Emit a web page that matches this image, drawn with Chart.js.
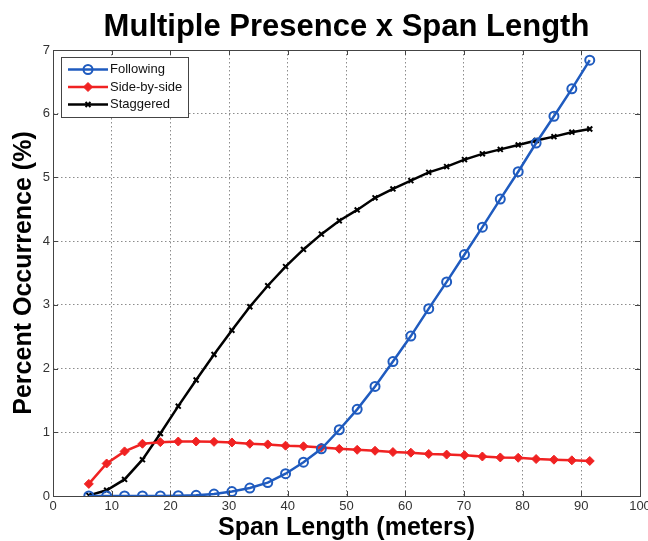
<!DOCTYPE html>
<html>
<head>
<meta charset="utf-8">
<script src="https://cdn.jsdelivr.net/npm/chart.js@4/dist/chart.umd.min.js"></script>
<style>
  html, body { margin: 0; padding: 0; background: #ffffff; }
  #c { display: block; }
</style>
</head>
<body>
<canvas id="c" width="648" height="541"></canvas>
<script>
// Span lengths in meters (10 ft steps, 20 ft to 300 ft)
const spanLength = [6.10, 9.14, 12.19, 15.24, 18.29, 21.34, 24.38, 27.43, 30.48, 33.53,
                    36.58, 39.62, 42.67, 45.72, 48.77, 51.82, 54.86, 57.91, 60.96, 64.01,
                    67.06, 70.10, 73.15, 76.20, 79.25, 82.30, 85.34, 88.39, 91.44];

// Percent occurrence per multiple-presence type
const following   = [0, 0, 0, 0, 0, 0.005, 0.01, 0.03, 0.07, 0.125,
                     0.21, 0.35, 0.53, 0.74, 1.04, 1.36, 1.72, 2.11, 2.51, 2.94,
                     3.36, 3.79, 4.22, 4.66, 5.09, 5.54, 5.96, 6.39, 6.84];
const sideBySide  = [0.19, 0.51, 0.70, 0.82, 0.845, 0.855, 0.855, 0.85, 0.84, 0.82,
                     0.81, 0.79, 0.78, 0.76, 0.74, 0.725, 0.71, 0.69, 0.68, 0.66,
                     0.65, 0.64, 0.62, 0.605, 0.60, 0.58, 0.57, 0.56, 0.55];
const staggered   = [0.01, 0.09, 0.26, 0.57, 0.98, 1.41, 1.82, 2.22, 2.60, 2.97,
                     3.30, 3.60, 3.87, 4.11, 4.32, 4.49, 4.68, 4.82, 4.95, 5.08,
                     5.17, 5.28, 5.37, 5.44, 5.51, 5.58, 5.64, 5.71, 5.76];

const seriesNames = ['Following', 'Side-by-side', 'Staggered'];
const xTicks = [0, 10, 20, 30, 40, 50, 60, 70, 80, 90, 100];
const yTicks = [0, 1, 2, 3, 4, 5, 6, 7];

const toPoints = vals => vals.map((v, i) => ({ x: spanLength[i], y: v }));

const FONT = '"Liberation Sans", Arial, Helvetica, sans-serif';
const AXIS_COLOR = '#444444';

// Box around the plot with inward tick marks on all four sides
const axesBox = {
  id: 'axesBox',
  afterDatasetsDraw(chart) {
    const { ctx, chartArea: a, scales } = chart;
    ctx.save();
    ctx.strokeStyle = AXIS_COLOR;
    ctx.lineWidth = 1;
    ctx.strokeRect(Math.round(a.left) + 0.5, Math.round(a.top) + 0.5,
                   Math.round(a.right - a.left), Math.round(a.bottom - a.top));
    const len = 5;
    ctx.beginPath();
    scales.x.ticks.forEach(t => {
      const px = Math.round(scales.x.getPixelForValue(t.value)) + 0.5;
      ctx.moveTo(px, a.bottom); ctx.lineTo(px, a.bottom - len);
      ctx.moveTo(px, a.top); ctx.lineTo(px, a.top + len);
    });
    scales.y.ticks.forEach(t => {
      const py = Math.round(scales.y.getPixelForValue(t.value)) + 0.5;
      ctx.moveTo(a.left, py); ctx.lineTo(a.left + len, py);
      ctx.moveTo(a.right, py); ctx.lineTo(a.right - len, py);
    });
    ctx.stroke();
    ctx.restore();
  }
};

// Legend box in the upper-left corner: line sample with marker, then label
const lineLegend = {
  id: 'lineLegend',
  afterDraw(chart) {
    const { ctx } = chart;
    const box = { x: 61, y: 57, w: 127, h: 60 };
    const rows = [69.5, 87, 104.5];
    ctx.save();
    ctx.fillStyle = '#ffffff';
    ctx.fillRect(box.x, box.y, box.w, box.h);
    ctx.strokeStyle = AXIS_COLOR;
    ctx.lineWidth = 1;
    ctx.strokeRect(box.x + 0.5, box.y + 0.5, box.w, box.h);
    chart.data.datasets.forEach((ds, i) => {
      const y = rows[i];
      ctx.strokeStyle = ds.borderColor;
      ctx.lineWidth = ds.borderWidth;
      ctx.beginPath();
      ctx.moveTo(68, y); ctx.lineTo(108, y);
      ctx.stroke();
      ctx.fillStyle = ds.pointBackgroundColor;
      ctx.strokeStyle = ds.pointBorderColor;
      ctx.lineWidth = ds.pointBorderWidth;
      Chart.helpers.drawPoint(ctx, {
        pointStyle: ds.pointStyle, radius: ds.pointRadius,
        rotation: 0, borderWidth: ds.pointBorderWidth
      }, 88, y);
      ctx.fillStyle = '#111111';
      ctx.font = '13px ' + FONT;
      ctx.textBaseline = 'middle';
      ctx.textAlign = 'left';
      ctx.fillText(ds.label, 110, y);
    });
    ctx.restore();
  }
};

new Chart(document.getElementById('c'), {
  type: 'line',
  data: {
    datasets: [
      {
        label: seriesNames[0],
        data: toPoints(following),
        borderColor: '#1f5bbf',
        borderWidth: 2.5,
        pointStyle: 'circle',
        pointRadius: 4.5,
        pointBorderWidth: 2,
        pointBorderColor: '#1f5bbf',
        pointBackgroundColor: 'rgba(255,255,255,0)'
      },
      {
        label: seriesNames[1],
        data: toPoints(sideBySide),
        borderColor: '#f02222',
        borderWidth: 2.5,
        pointStyle: 'rectRot',
        pointRadius: 4.5,
        pointBorderWidth: 1,
        pointBorderColor: '#f02222',
        pointBackgroundColor: '#f02222'
      },
      {
        label: seriesNames[2],
        data: toPoints(staggered),
        borderColor: '#000000',
        borderWidth: 2.5,
        pointStyle: 'crossRot',
        pointRadius: 3.5,
        pointBorderWidth: 2,
        pointBorderColor: '#000000',
        pointBackgroundColor: '#000000'
      }
    ]
  },
  options: {
    responsive: false,
    animation: false,
    devicePixelRatio: 1,
    layout: { padding: { left: 0, right: 8, top: 0, bottom: 0 } },
    elements: { line: { tension: 0 } },
    plugins: {
      legend: { display: false },
      tooltip: { enabled: false },
      title: {
        display: true,
        text: 'Multiple Presence x Span Length',
        fullSize: false,
        color: '#000000',
        font: { family: FONT, size: 31, weight: 'bold', lineHeight: 1.2 },
        padding: { top: 9, bottom: 3.8 }
      }
    },
    scales: {
      x: {
        type: 'linear',
        min: 0, max: 100,
        afterBuildTicks: s => { s.ticks = xTicks.map(v => ({ value: v })); },
        afterFit: s => { s.height = 45; s.paddingLeft = 0; s.paddingRight = 0; },
        ticks: { color: '#333333', padding: 3, maxRotation: 0, font: { family: FONT, size: 13 } },
        grid: { color: '#8c8c8c', lineWidth: 1, drawTicks: false },
        border: { display: false, dash: [1.5, 2.5] },
        title: {
          display: true,
          text: 'Span Length (meters)',
          color: '#000000',
          font: { family: FONT, size: 25, weight: 'bold', lineHeight: 1 },
          padding: { top: 0, bottom: 0 }
        }
      },
      y: {
        type: 'linear',
        min: 0, max: 7,
        afterBuildTicks: s => { s.ticks = yTicks.map(v => ({ value: v })); },
        afterFit: s => { s.width = 53; s.paddingTop = 0; s.paddingBottom = 0; },
        ticks: { color: '#333333', padding: 3, font: { family: FONT, size: 13 } },
        grid: { color: '#8c8c8c', lineWidth: 1, drawTicks: false },
        border: { display: false, dash: [1.5, 2.5] },
        title: {
          display: true,
          text: 'Percent Occurrence (%)',
          color: '#000000',
          font: { family: FONT, size: 25, weight: 'bold', lineHeight: 1 },
          padding: { top: 12, bottom: 0 }
        }
      }
    }
  },
  plugins: [axesBox, lineLegend]
});
</script>
</body>
</html>
